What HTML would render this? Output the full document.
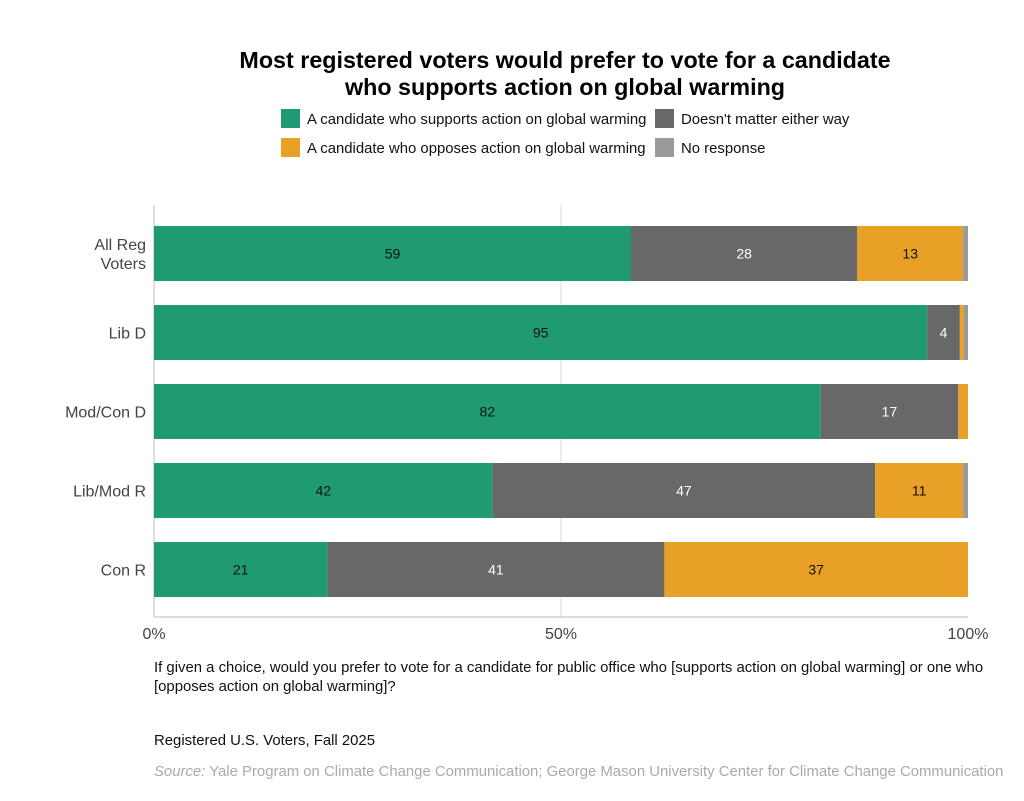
<!DOCTYPE html>
<html><head><meta charset="utf-8"><style>
body{margin:0;background:#fff;font-family:"Liberation Sans",Arial,sans-serif;}
svg{display:block}
</style></head><body>
<svg id="c" width="1024" height="801">
<text x="565" y="68" text-anchor="middle" font-size="23.3" font-weight="bold">Most registered voters would prefer to vote for a candidate</text>
<text x="565" y="95" text-anchor="middle" font-size="23.3" font-weight="bold">who supports action on global warming</text>
<g font-size="14.9" fill="#111">
<rect x="281" y="109" width="19" height="19" fill="#1f9a72"/>
<text x="307" y="124">A candidate who supports action on global warming</text>
<rect x="655" y="109" width="19" height="19" fill="#686868"/>
<text x="681" y="124">Doesn't matter either way</text>
<rect x="281" y="138" width="19" height="19" fill="#e8a026"/>
<text x="307" y="153">A candidate who opposes action on global warming</text>
<rect x="655" y="138" width="19" height="19" fill="#9a9a9a"/>
<text x="681" y="153">No response</text>
</g>
<g id="plot"></g>
<g font-size="14.9" fill="#111">
<text x="154" y="672">If given a choice, would you prefer to vote for a candidate for public office who [supports action on global warming] or one who</text>
<text x="154" y="691">[opposes action on global warming]?</text>
<text x="154" y="745">Registered U.S. Voters, Fall 2025</text>
<text x="154" y="776" fill="#aaa"><tspan font-style="italic">Source:</tspan> Yale Program on Climate Change Communication; George Mason University Center for Climate Change Communication</text>
</g>
</svg>
<script>
const categories=["All Reg Voters","Lib D","Mod/Con D","Lib/Mod R","Con R"];
const supports=[58.6,95.0,81.9,41.6,21.3];
const doesntMatter=[27.8,4.0,16.9,47.0,41.4];
const opposes=[13.0,0.5,1.2,10.8,37.3];
const noResponse=[0.6,0.5,0,0.6,0];
const supportsLabels=["59","95","82","42","21"];
const doesntLabels=["28","4","17","47","41"];
const opposesLabels=["13","","","11","37"];
const ticks=[0,50,100];
const NS="http://www.w3.org/2000/svg";
const plot=document.getElementById('plot');
const x0=154,x1=968,yTop=214,band=79,barH=55;
const xs=v=>x0+(x1-x0)*v/100;
const yb=i=>yTop+i*band+12;
function mk(t,a){const e=document.createElementNS(NS,t);for(const k in a)e.setAttribute(k,a[k]);plot.appendChild(e);return e;}
ticks.forEach((t,i)=>{
 if(t===50){const g=mk('line',{x1:xs(t),x2:xs(t),y1:205,y2:617,stroke:'#d8d8d8'});
 
 }
 const tx=mk('text',{x:xs(t),y:639,'text-anchor':'middle','font-size':16,fill:'#444'});tx.textContent=t+'%';
 
 
});
const ax=mk('line',{x1:154,x2:154,y1:205,y2:617,stroke:'#bbb'});


const xa=mk('line',{x1:154,x2:968,y1:617,y2:617,stroke:'#bbb'});


const series=[[supports,'#1f9a72',supportsLabels,'#111','supports'],[doesntMatter,'#686868',doesntLabels,'#fff','doesnt-matter'],[opposes,'#e8a026',opposesLabels,'#111','opposes'],[noResponse,'#9a9a9a',null,'','no-response']];
categories.forEach((c,i)=>{
 const y=yb(i);let cum=0;
 series.forEach(s=>{
  const v=s[0][i];
  const r=mk('rect',{x:xs(cum),y:y,width:Math.max(0,xs(cum+v)-xs(cum)),height:barH,fill:s[1]});
  
  
  if(s[2]&&s[2][i]){const t=mk('text',{x:(xs(cum)+xs(cum+v))/2,y:y+barH/2+5,'text-anchor':'middle','font-size':14,fill:s[3]});t.textContent=s[2][i];
  
  }
  cum+=v;
 });
 const parts=c==="All Reg Voters"?["All Reg","Voters"]:[c];
 parts.forEach((p,k)=>{const t=mk('text',{x:146,y:y+barH/2+6+(parts.length>1?(k-0.5)*19:0),'text-anchor':'end','font-size':16,fill:'#444'});t.textContent=p;
 
 });
});
</script>
</body></html>
